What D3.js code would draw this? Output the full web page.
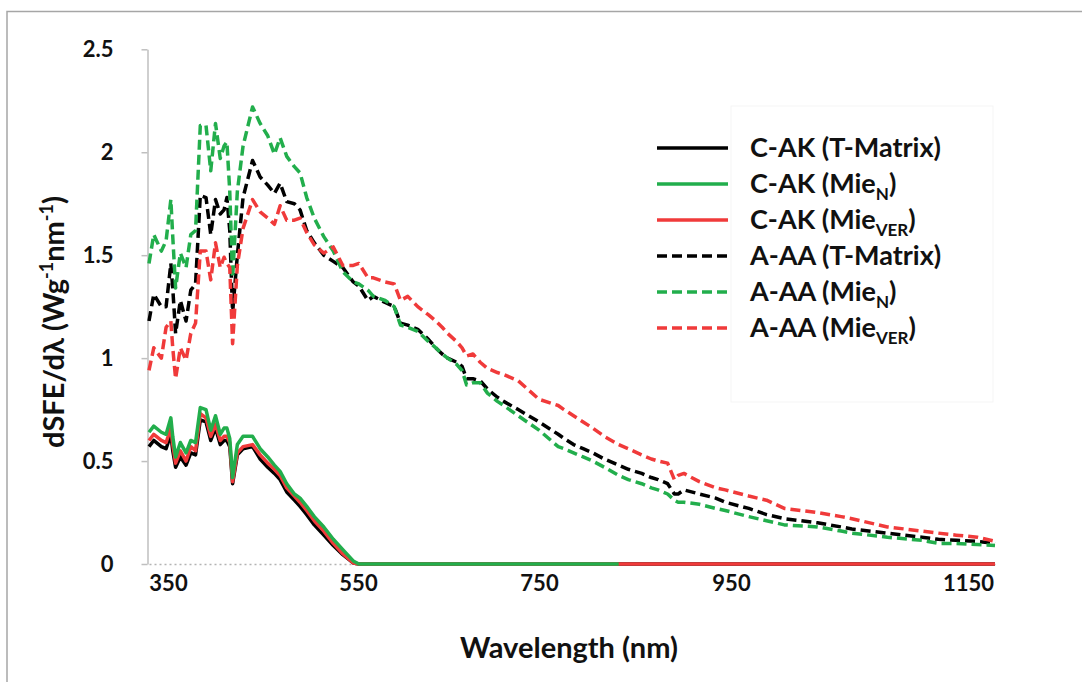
<!DOCTYPE html>
<html>
<head>
<meta charset="utf-8">
<script src="https://cdn.jsdelivr.net/npm/d3@7"></script>
<style>
  body { margin: 0; background: #fff; }
  svg { display: block; }
  text { font-family: Lato, "Open Sans", sans-serif; font-weight: 700; fill: #111; }
</style>
</head>
<body>
<svg id="chart" width="1082" height="682"></svg>
<script>
// Wavelength grid (nm) shared by all six spectra
const wavelength = [330,335,343,348,353,355,358,363,369,374,379,384,390,395,400,405,409,412,415,418,
  423,429,439,447,455,462,468,475,483,489,496,504,514,524,534,545,551,561,567,580,
  590,597,605,616,628,636,643,649,659,665,670,677,685,693,704,711,727,750,770,776,
  786,796,806,818,833,843,857,867,874,884,891,895,901,917,934,944,965,980,995,1023,
  1043,1052,1082,1111,1125,1140,1159,1176];

// C-AK spectra (solid lines)
const cakTMatrix = [0.57,0.60,0.57,0.56,0.63,0.55,0.47,0.52,0.48,0.54,
  0.53,0.70,0.69,0.60,0.66,0.58,0.60,0.60,0.57,0.39,
  0.53,0.56,0.57,0.51,0.47,0.44,0.41,0.35,0.31,0.28,
  0.24,0.19,0.14,0.09,0.045,0.005,0,0,0,0,
  0,0,0,0,0,0,0,0,0,0,
  0,0,0,0,0,0,0,0,0,0,
  0,0,0,0,0,0,0,0,0,0,
  0,0,0,0,0,0,0,0,0,0,
  0,0,0,0,0,0,0,0];
const cakMieN = [0.64,0.67,0.64,0.63,0.71,0.62,0.52,0.59,0.54,0.60,
  0.59,0.76,0.75,0.65,0.72,0.63,0.66,0.66,0.61,0.42,
  0.58,0.62,0.62,0.56,0.52,0.48,0.45,0.39,0.34,0.32,
  0.28,0.23,0.18,0.12,0.07,0.015,0,0,0,0,
  0,0,0,0,0,0,0,0,0,0,
  0,0,0,0,0,0,0,0,0,0,
  0,0,0,0,0,null,null,null,null,null,
  null,null,null,null,null,null,null,null,null,null,
  null,null,null,null,null,null,null,null];
const cakMieVER = [0.60,0.63,0.60,0.59,0.66,0.58,0.49,0.55,0.50,0.57,
  0.55,0.73,0.71,0.62,0.68,0.60,0.62,0.62,0.59,0.40,
  0.54,0.57,0.58,0.53,0.49,0.46,0.43,0.37,0.33,0.30,
  0.26,0.21,0.16,0.10,0.05,0.005,0,0,0,0,
  0,0,0,0,0,0,0,0,0,0,
  0,0,0,0,0,0,0,0,0,0,
  0,0,0,0,0,0,0,0,0,0,
  0,0,0,0,0,0,0,0,0,0,
  0,0,0,0,0,0,0,0];

// A-AA spectra (dashed lines)
const aaaTMatrix = [1.18,1.31,1.25,1.25,1.46,1.34,1.12,1.28,1.18,1.33,
  1.36,1.79,1.78,1.60,1.77,1.70,1.72,1.78,1.62,1.22,
  1.50,1.78,1.96,1.88,1.84,1.80,1.85,1.76,1.75,1.72,
  1.62,1.56,1.50,1.47,1.44,1.37,1.35,1.28,1.30,1.27,
  1.25,1.17,1.16,1.14,1.09,1.05,1.02,1.00,0.98,0.96,
  0.90,0.90,0.89,0.85,0.81,0.79,0.75,0.69,0.63,0.61,
  0.58,0.56,0.54,0.51,0.48,0.46,0.44,0.42,0.41,0.39,
  0.34,0.34,0.36,0.34,0.32,0.30,0.27,0.24,0.22,0.20,
  0.18,0.17,0.15,0.13,0.12,0.115,0.11,0.10];
const aaaMieN = [1.46,1.60,1.52,1.57,1.77,1.59,1.34,1.51,1.44,1.60,
  1.62,2.13,2.13,1.91,2.14,1.97,2.03,2.05,1.81,1.39,
  1.81,2.03,2.22,2.14,2.08,1.99,2.07,1.98,1.93,1.90,
  1.78,1.68,1.59,1.52,1.42,1.37,1.36,1.33,1.30,1.28,
  1.25,1.16,1.15,1.13,1.08,1.05,1.02,1.00,0.97,0.94,
  0.87,0.88,0.88,0.83,0.79,0.77,0.72,0.65,0.57,0.56,
  0.54,0.52,0.50,0.47,0.43,0.41,0.39,0.37,0.36,0.34,
  0.31,0.30,0.30,0.29,0.27,0.26,0.23,0.21,0.19,0.18,
  0.16,0.15,0.13,0.115,0.10,0.10,0.095,0.09];
const aaaMieVER = [0.94,1.05,1.00,1.15,1.18,1.05,0.90,1.05,0.99,1.12,
  1.17,1.52,1.52,1.38,1.56,1.44,1.49,1.46,1.44,1.07,
  1.45,1.63,1.77,1.71,1.68,1.65,1.74,1.67,1.67,1.68,
  1.61,1.55,1.51,1.54,1.45,1.45,1.46,1.39,1.39,1.37,
  1.36,1.28,1.30,1.25,1.21,1.18,1.15,1.12,1.08,1.05,
  1.01,1.02,0.98,0.95,0.93,0.92,0.89,0.80,0.77,0.75,
  0.72,0.69,0.66,0.62,0.58,0.56,0.53,0.51,0.50,0.49,
  0.41,0.43,0.44,0.40,0.37,0.36,0.33,0.31,0.27,0.25,
  0.23,0.22,0.18,0.16,0.15,0.14,0.13,0.11];

// Axis labels
const xTickValues = [350, 550, 750, 950, 1150];
const yTickValues = [0, 0.5, 1, 1.5, 2, 2.5];

const BLACK = "#000000", GREEN = "#22ae4c", RED = "#f03a3a";

// Legend order
const series = [
  { name: "C-AK", method: "T-Matrix", sub: null,  values: cakTMatrix, color: BLACK, dashed: false },
  { name: "C-AK", method: "Mie",      sub: "N",   values: cakMieN,    color: GREEN, dashed: false },
  { name: "C-AK", method: "Mie",      sub: "VER", values: cakMieVER,  color: RED,   dashed: false },
  { name: "A-AA", method: "T-Matrix", sub: null,  values: aaaTMatrix, color: BLACK, dashed: true },
  { name: "A-AA", method: "Mie",      sub: "N",   values: aaaMieN,    color: GREEN, dashed: true },
  { name: "A-AA", method: "Mie",      sub: "VER", values: aaaMieVER,  color: RED,   dashed: true }
];
// Paint order of the curves
const drawOrder = [0, 2, 1, 3, 4, 5];

const svg = d3.select("#chart");
svg.append("rect").attr("width", 1082).attr("height", 682).attr("fill", "#fff");

// Outer chart frame
svg.append("rect")
  .attr("x", 7).attr("y", 11.5).attr("width", 1100).attr("height", 700)
  .attr("fill", "none").attr("stroke", "#a6a6a6").attr("stroke-width", 1.5);

// Category-style wavelength axis: labelled wavelengths are not evenly spaced
const x = d3.scaleLinear()
  .domain([330, 350, 550, 750, 950, 1150, 1176])
  .range([149, 168, 358, 539, 731, 968, 995]);
const y = d3.scaleLinear().domain([0, 2.5]).range([564, 49.3]);

// Legend frame
svg.append("rect")
  .attr("x", 731).attr("y", 106).attr("width", 262).attr("height", 296)
  .attr("fill", "#fff").attr("stroke", "#f5f5f5").attr("stroke-width", 1);

// Y axis
const yAxis = svg.append("g")
  .attr("transform", "translate(147.5,0)")
  .call(d3.axisLeft(y).tickValues(yTickValues).tickSize(6).tickSizeOuter(0).tickPadding(28)
    .tickFormat(d3.format("")));
yAxis.select(".domain").attr("stroke", "#bfbfbf").attr("stroke-width", 1.5);
yAxis.selectAll(".tick line").attr("stroke", "#bfbfbf").attr("stroke-width", 1.5);
yAxis.selectAll(".tick text").style("font-size", "22px").attr("fill", "#111");

// X axis (dotted baseline at zero)
const xAxis = svg.append("g")
  .attr("transform", `translate(0,${y(0)})`)
  .call(d3.axisBottom(x).tickValues(xTickValues).tickSize(0).tickSizeOuter(0).tickPadding(11)
    .tickFormat(d3.format("d")));
xAxis.select(".domain").attr("stroke", "#b4b4b4").attr("stroke-width", 1.5)
  .attr("stroke-dasharray", "2,3");
xAxis.selectAll(".tick text").style("font-size", "22px").attr("fill", "#111");

// Curves
const line = d3.line()
  .defined(d => d[1] !== null)
  .x(d => x(d[0]))
  .y(d => y(d[1]));

drawOrder.forEach(i => {
  const s = series[i];
  svg.append("path")
    .datum(wavelength.map((w, k) => [w, s.values[k]]))
    .attr("fill", "none")
    .attr("stroke", s.color)
    .attr("stroke-width", 3.5)
    .attr("stroke-linejoin", "round")
    .attr("stroke-dasharray", s.dashed ? "10,5" : null)
    .attr("d", line);
});

// Legend
const legend = svg.append("g");
series.forEach((s, i) => {
  const ly = 148 + i * 36;
  legend.append("line")
    .attr("x1", 657).attr("x2", 728).attr("y1", ly).attr("y2", ly)
    .attr("stroke", s.color).attr("stroke-width", 3.5)
    .attr("stroke-dasharray", s.dashed ? "10,5" : null);
  const t = legend.append("text").attr("x", 750).attr("y", ly).attr("dy", "0.35em")
    .style("font-size", "27px");
  t.append("tspan").text(`${s.name} (${s.method}`);
  if (s.sub) {
    t.append("tspan").attr("dy", 7).style("font-size", "17px").text(s.sub);
    t.append("tspan").attr("dy", -7).text(")");
  } else {
    t.append("tspan").text(")");
  }
});

// Axis titles
svg.append("text")
  .attr("x", 569).attr("y", 658).attr("text-anchor", "middle")
  .style("font-size", "29px")
  .text("Wavelength (nm)");

const yt = svg.append("text")
  .attr("transform", "translate(64,322) rotate(-90)")
  .attr("text-anchor", "middle")
  .style("font-size", "29px");
yt.append("tspan").text("dSFE/dλ (Wg");
yt.append("tspan").attr("dy", -11).style("font-size", "18px").text("-1");
yt.append("tspan").attr("dy", 11).text("nm");
yt.append("tspan").attr("dy", -11).style("font-size", "18px").text("-1");
yt.append("tspan").attr("dy", 11).text(")");
</script>
</body>
</html>
